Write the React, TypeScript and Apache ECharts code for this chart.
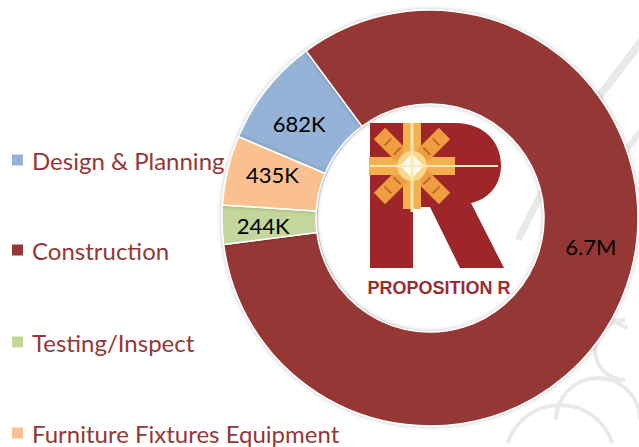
import React, { useEffect, useRef } from "react";
import * as echarts from "echarts";

const categories = ["Design & Planning", "Construction", "Testing/Inspect", "Furniture Fixtures Equipment"];
const values = [682000, 6700000, 244000, 435000];
const colors = ["#95B3D7", "#953735", "#C3D69B", "#FAC090"];

// style: label nudges per slice, legend row centres
const labelOffsets = [[-2, 7], [10, -36], [-3, 2], [2, -6]];
const legendCenters = [160, 250, 342, 433];

const R_PATH =
  "M0,0 L85,0 C115,0 131,20 131,42 C131,62 119,76 101,80 L134,145 L90,145 L60,84 L43,84 L43,145 L0,145 Z";
echarts.graphic.registerShape("logoR", echarts.graphic.extendPath(R_PATH, {}));

function fmt(v: number): string {
  if (v >= 1e6) return (v / 1e6).toFixed(1) + "M";
  return Math.round(v / 1000) + "K";
}

function starElements(cx: number, cy: number): any[] {
  const els: any[] = [];
  for (let i = 0; i < 8; i++) {
    const a = (i * Math.PI) / 4;
    const c = Math.cos(a), s = Math.sin(a);
    const diag = i % 2 === 1;
    const r1 = 8, r2 = diag ? 46 : 43;
    els.push({
      type: "line", z: 11,
      shape: { x1: cx + c * r1, y1: cy + s * r1, x2: cx + c * r2, y2: cy + s * r2 },
      style: { stroke: diag ? "#ef9d40" : "#f4b04c", lineWidth: diag ? 16 : 18 },
    });
    if (diag) {
      for (const rr of [21, 34]) {
        const px = cx + c * rr, py = cy + s * rr;
        els.push({
          type: "line", z: 12,
          shape: { x1: px - s * 5, y1: py + c * 5, x2: px + s * 5, y2: py - c * 5 },
          style: { stroke: "#b5602c", lineWidth: 1.5 },
        });
      }
    }
  }
  els.push({ type: "circle", z: 12, shape: { cx, cy, r: 15 }, style: { fill: "#fbd68a" } });
  els.push({
    type: "polygon", z: 13,
    shape: { points: [[cx, cy - 12], [cx + 12, cy], [cx, cy + 12], [cx - 12, cy]] },
    style: { fill: "#fffbee" },
  });
  els.push({ type: "line", z: 13, shape: { x1: 370, y1: cy, x2: 498, y2: cy }, style: { stroke: "#fde9b8", lineWidth: 2 } });
  els.push({ type: "line", z: 13, shape: { x1: cx, y1: 123, x2: cx, y2: 212 }, style: { stroke: "#fde9b8", lineWidth: 3 } });
  return els;
}

export default function App() {
  const ref = useRef<HTMLDivElement>(null);
  useEffect(() => {
    if (!ref.current) return;
    const chart = echarts.init(ref.current, null, { renderer: "svg" });
    const deco = "#e9e9e9";
    const graphics: any[] = [
      { type: "line", z: 0, shape: { x1: 650, y1: 30, x2: 585, y2: 115 }, style: { stroke: deco, lineWidth: 8 } },
      { type: "line", z: 0, shape: { x1: 650, y1: 118, x2: 612, y2: 170 }, style: { stroke: deco, lineWidth: 6 } },
      { type: "arc", z: 0, shape: { cx: 598, cy: 420, r: 42, startAngle: Math.PI, endAngle: Math.PI * 2 }, style: { stroke: deco, lineWidth: 4, fill: "none" } },
      { type: "arc", z: 0, shape: { cx: 560, cy: 460, r: 55, startAngle: Math.PI * 1.1, endAngle: Math.PI * 1.9 }, style: { stroke: deco, lineWidth: 4, fill: "none" } },
      { type: "arc", z: 0, shape: { cx: 625, cy: 350, r: 30, startAngle: Math.PI * 0.5, endAngle: Math.PI * 1.5 }, style: { stroke: deco, lineWidth: 4, fill: "none" } },
      { type: "arc", z: 0, shape: { cx: 640, cy: 290, r: 40, startAngle: Math.PI * 0.6, endAngle: Math.PI * 1.4 }, style: { stroke: deco, lineWidth: 4, fill: "none" } },
      { type: "circle", z: 1, shape: { cx: 431, cy: 218, r: 114 }, style: { fill: "#fff", stroke: "#d6d6d6", lineWidth: 1.5 } },
      { type: "line", z: 2, shape: { x1: 542, y1: 192, x2: 518, y2: 240 }, style: { stroke: deco, lineWidth: 7 } },
      { type: "logoR", z: 10, x: 370, y: 123, scaleX: 1, scaleY: 1, style: { fill: "#9e2528" } },
      ...starElements(412, 166),
      {
        type: "text", z: 14, x: 439, y: 288,
        style: {
          text: "PROPOSITION R", fill: "#9b2d30", fontFamily: "Liberation Sans, Arial, sans-serif",
          fontWeight: "bold", fontSize: 18, align: "center", verticalAlign: "middle",
        },
      },
    ];

    const legends = categories.map((name, i) => ({
      data: [name],
      left: 10,
      top: legendCenters[i] - 13,
      padding: 0,
      orient: "vertical",
      icon: "rect",
      itemWidth: 13,
      itemHeight: 13,
      selectedMode: false,
      textStyle: {
        color: "#953735", fontFamily: "Lato, sans-serif", fontSize: 24, lineHeight: 26, padding: [0, 0, 0, 3],
      },
    }));

    chart.setOption({
      animation: false,
      backgroundColor: "#ffffff",
      color: colors,
      legend: legends,
      graphic: { elements: graphics },
      series: [
        {
          type: "pie",
          z: 2,
          center: [430, 218],
          radius: [114, 208],
          startAngle: 157,
          clockwise: true,
          avoidLabelOverlap: false,
          silent: true,
          itemStyle: {
            borderColor: "#ffffff", borderWidth: 1.5,
            shadowBlur: 4, shadowColor: "rgba(0,0,0,0.25)",
          },
          label: {
            show: true, position: "inside", color: "#000000",
            fontFamily: "Lato, sans-serif", fontSize: 22,
            formatter: (p: any) => fmt(p.value),
          },
          labelLine: { show: false },
          data: categories.map((name, i) => ({
            name,
            value: values[i],
            label: { offset: labelOffsets[i] },
          })),
        },
      ],
    });
    return () => chart.dispose();
  }, []);
  return (
    <div
      ref={ref}
      style={{ position: "absolute", left: 0, top: 0, width: 639, height: 447, background: "#fff" }}
    />
  );
}
